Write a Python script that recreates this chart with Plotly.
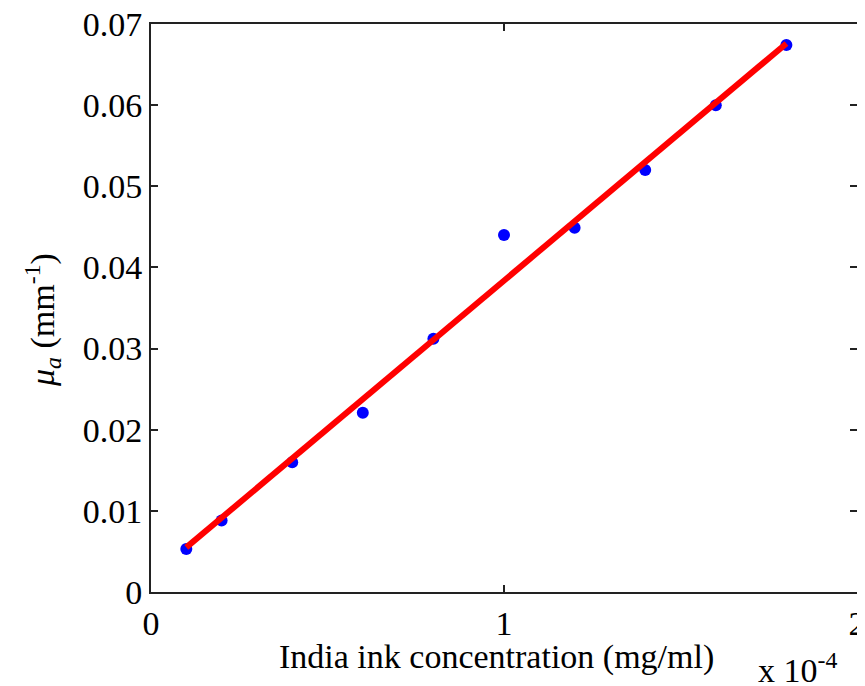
import plotly.graph_objects as go

# Data (x in units of 1e-4 mg/ml)
conc = [0.1, 0.2, 0.4, 0.6, 0.8, 1.0, 1.2, 1.4, 1.6, 1.8]
mu_a = [0.0053, 0.0088, 0.0160, 0.0221, 0.0312, 0.0440, 0.0449, 0.0520, 0.0600, 0.0674]

fit_x = [0.1, 1.8]
fit_y = [0.0055, 0.0676]

x_tickvals = [0, 1, 2]
x_ticktext = ["0", "1", "2"]
y_tickvals = [0, 0.01, 0.02, 0.03, 0.04, 0.05, 0.06, 0.07]
y_ticktext = ["0", "0.01", "0.02", "0.03", "0.04", "0.05", "0.06", "0.07"]

FONT = "Liberation Serif, Times New Roman, serif"
FS = 34

fig = go.Figure()
fig.add_trace(go.Scatter(x=conc, y=mu_a, mode="markers",
                         marker=dict(color="#0000FF", size=12, line=dict(width=0)),
                         showlegend=False))
fig.add_trace(go.Scatter(x=fit_x, y=fit_y, mode="lines",
                         line=dict(color="#FF0000", width=6),
                         showlegend=False))

axis_common = dict(showgrid=False, zeroline=False, showline=True, linecolor="#222222",
                   linewidth=2, mirror="ticks", ticks="inside", ticklen=7, tickwidth=1.5,
                   tickcolor="#222222", automargin=False, ticklabeloverflow="allow",
                   tickfont=dict(family=FONT, size=FS, color="#000000"))

fig.update_xaxes(range=[0, 2], tickvals=x_tickvals, ticktext=x_ticktext, **axis_common)
fig.update_yaxes(range=[0, 0.07], tickvals=y_tickvals, ticktext=y_ticktext, **axis_common)

fig.add_annotation(text="India ink concentration (mg/ml)", xref="paper", yref="paper",
                   x=0.49, y=0, yshift=-44, xanchor="center", yanchor="top", showarrow=False,
                   font=dict(family=FONT, size=FS, color="#000000"))
fig.add_annotation(text="x 10<sup>-4</sup>", xref="paper", yref="paper",
                   x=1, y=0, xshift=-18, yshift=-99, xanchor="right", yanchor="bottom",
                   showarrow=False, font=dict(family=FONT, size=FS, color="#000000"))
fig.add_annotation(text="<i>μ<sub>a</sub></i> (mm<sup>-1</sup>)", xref="paper", yref="paper",
                   x=0, y=0.5, xshift=-109, yshift=-12, xanchor="center", yanchor="middle",
                   showarrow=False, textangle=-90,
                   font=dict(family=FONT, size=FS, color="#000000"))

# The page body adds an 8px offset, so the figure is 857x678 inside the 865x686 window
fig.update_layout(width=857, height=678, plot_bgcolor="white", paper_bgcolor="white",
                  margin=dict(l=143, r=8, t=16, b=94, autoexpand=False))

fig.write_html("out.html")
